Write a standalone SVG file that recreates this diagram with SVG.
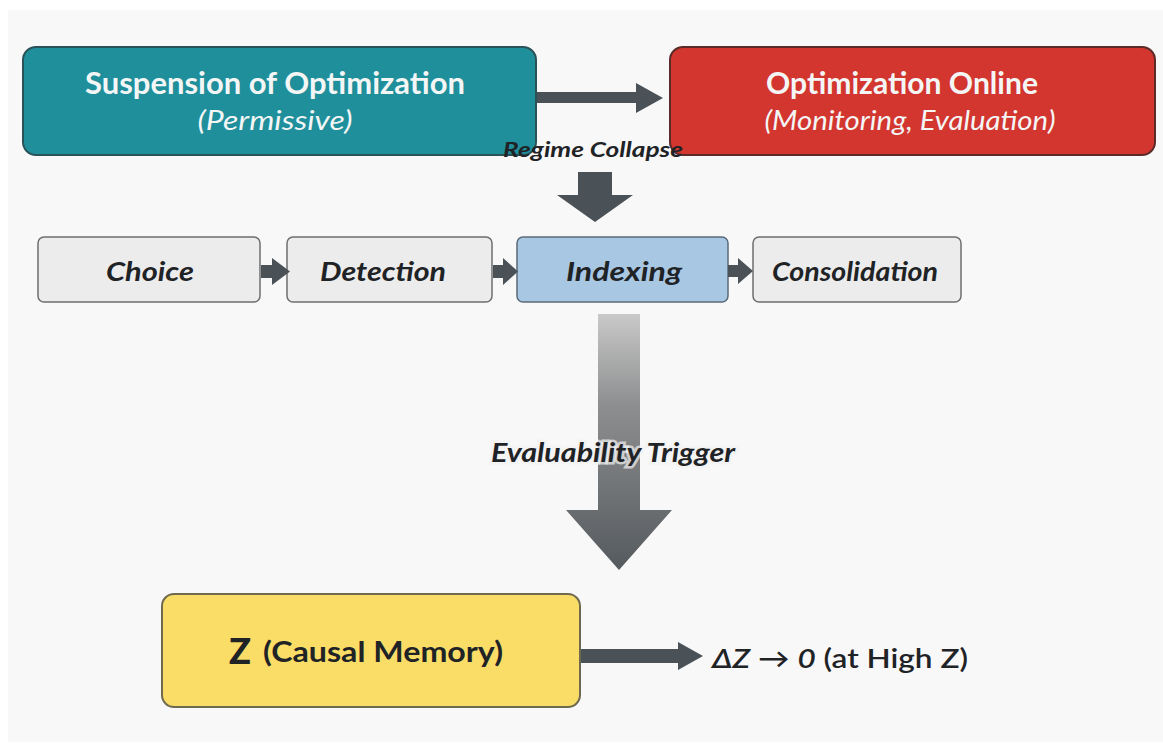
<svg xmlns="http://www.w3.org/2000/svg" width="1163" height="745" viewBox="0 0 1163 745">
<defs>
<linearGradient id="bigGrad" x1="0" y1="314" x2="0" y2="570" gradientUnits="userSpaceOnUse">
<stop offset="0" stop-color="#c9c9c9"/>
<stop offset="0.35" stop-color="#8e8f90"/>
<stop offset="1" stop-color="#555a5e"/>
</linearGradient>
<style>
.t{font-family:"Lato","Open Sans","DejaVu Sans",sans-serif;}
.w{fill:#f4f6f6;}
.d{fill:#1f2326;}
.step{fill:#ececec;stroke:#6e6e6e;stroke-width:1.5;}
.arr{fill:#4a5258;}
</style>
</defs>
<rect x="0" y="0" width="1163" height="745" fill="#ffffff"/>
<rect x="8" y="10" width="1155" height="732" fill="#f8f8f8"/>

<g id="suspension">
<rect x="23" y="47" width="513" height="108" rx="13" fill="#1f8f9c" stroke="#2a5359" stroke-width="2"/>
<text class="t w" x="275" y="94" font-size="30" font-weight="bold" text-anchor="middle" textLength="380" lengthAdjust="spacingAndGlyphs">Suspension of Optimization</text>
<text class="t w" x="275" y="130" font-size="27" font-style="italic" text-anchor="middle" textLength="155" lengthAdjust="spacingAndGlyphs">(Permissive)</text>
</g>

<g id="online">
<rect x="670" y="47" width="485" height="108" rx="13" fill="#d3352f" stroke="#5b2b2a" stroke-width="2"/>
<text class="t w" x="902" y="94" font-size="30" font-weight="bold" text-anchor="middle" textLength="272" lengthAdjust="spacingAndGlyphs">Optimization Online</text>
<text class="t w" x="910" y="130" font-size="27" font-style="italic" text-anchor="middle" textLength="291" lengthAdjust="spacingAndGlyphs">(Monitoring, Evaluation)</text>
</g>

<g id="choice">
<rect class="step" x="38" y="237" width="222" height="65" rx="6"/>
<text class="t d" x="150" y="281" font-size="27" font-weight="bold" font-style="italic" text-anchor="middle" textLength="88" lengthAdjust="spacingAndGlyphs">Choice</text>
</g>
<g id="detection">
<rect class="step" x="287" y="237" width="205" height="65" rx="6"/>
<text class="t d" x="383" y="281" font-size="27" font-weight="bold" font-style="italic" text-anchor="middle" textLength="126" lengthAdjust="spacingAndGlyphs">Detection</text>
</g>
<g id="indexing">
<rect x="517" y="237" width="211" height="65" rx="6" fill="#a8c7e3" stroke="#5a6b7a" stroke-width="1.5"/>
<text class="t d" x="624" y="281" font-size="27" font-weight="bold" font-style="italic" text-anchor="middle" textLength="116" lengthAdjust="spacingAndGlyphs">Indexing</text>
</g>
<g id="consolidation">
<rect class="step" x="753" y="237" width="208" height="65" rx="6"/>
<text class="t d" x="855" y="281" font-size="27" font-weight="bold" font-style="italic" text-anchor="middle" textLength="166" lengthAdjust="spacingAndGlyphs">Consolidation</text>
</g>

<g id="zmemory">
<rect x="162" y="594" width="418" height="113" rx="12" fill="#f9dd67" stroke="#6f6a4f" stroke-width="2"/>
<text class="t d" x="229" y="664" font-size="36" font-weight="900" textLength="22" lengthAdjust="spacingAndGlyphs">Z</text>
<text class="t d" x="263" y="662" font-size="28" font-weight="bold" textLength="240" lengthAdjust="spacingAndGlyphs">(Causal Memory)</text>
</g>

<g id="deltaz">
<text class="t d" x="712" y="668" font-size="27" font-weight="600" textLength="256" lengthAdjust="spacingAndGlyphs"><tspan font-style="italic">ΔZ</tspan> → <tspan font-style="italic">0</tspan> (at High Z)</text>
</g>

<g id="connectors">
<path class="arr" d="M537 92 H636 V83 L663 98 L636 113 V103 H537 Z"/>
<path class="arr" d="M578 172 H612 V195 H633 L595 222 L557 195 H578 Z"/>
<path class="arr" d="M261 265 H272 V258 L290 271.5 L272 285 V278 H261 Z"/>
<path class="arr" d="M493 265 H503 V258 L518 271.5 L503 285 V278 H493 Z"/>
<path class="arr" d="M728 265 H738 V258 L753 271 L738 284 V277 H728 Z"/>
<path d="M598 314 H640 V510 H672 L619 570 L566 510 H598 Z" fill="url(#bigGrad)"/>
<path class="arr" d="M581 649 H678 V642 L703 656 L678 670 V663 H581 Z"/>
<text class="t d" x="593" y="157" font-size="20" font-weight="bold" font-style="italic" text-anchor="middle" textLength="180" lengthAdjust="spacingAndGlyphs">Regime Collapse</text>
<text class="t d" x="613" y="462" font-size="27" font-weight="bold" font-style="italic" text-anchor="middle" textLength="244" lengthAdjust="spacingAndGlyphs" stroke="#f3f3f3" stroke-width="5" stroke-opacity="0.7" paint-order="stroke">Evaluability Trigger</text>
</g>
</svg>
